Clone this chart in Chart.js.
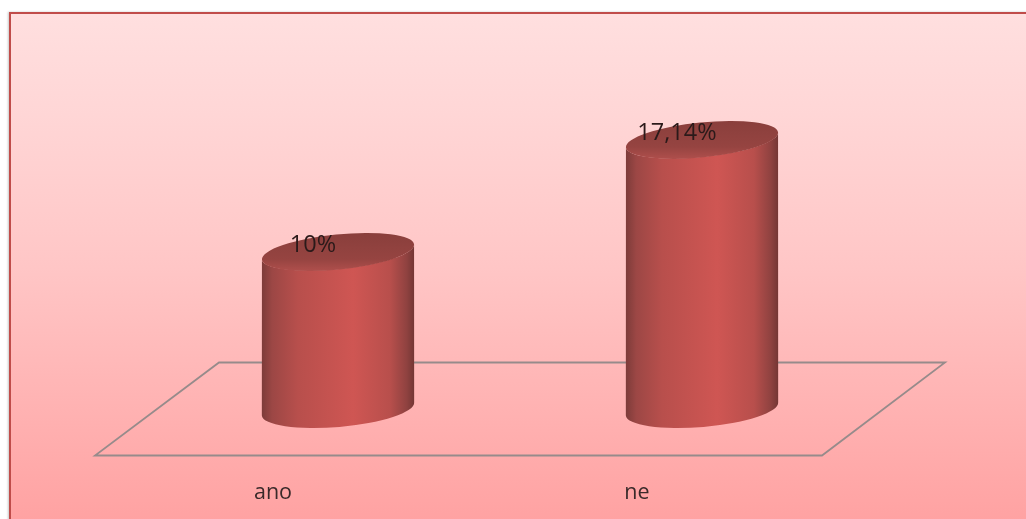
<!DOCTYPE html>
<html>
<head>
<meta charset="utf-8">
<title>ano ne</title>
<script src="https://cdn.jsdelivr.net/npm/chart.js@4"></script>
<style>
html,body{margin:0;padding:0;background:#fff;overflow:hidden;}
#wrap{position:relative;width:1026px;height:519px;}
#frame{
    position:absolute;left:9px;top:12px;right:-4px;bottom:-4px;
    border:2px solid #c04c4a;
    box-shadow:-1px 0 2px rgba(90,90,90,.35);
    background:linear-gradient(to bottom,#ffdfdf 0%,#ffd6d6 20%,#ffc6c6 50%,#ffb2b2 78%,#ffa2a2 100%);
}
canvas{position:absolute;left:0;top:0;}
</style>
</head>
<body>
<div id="wrap">
<div id="frame"></div>
<canvas id="myChart" width="1026" height="519"></canvas>
</div>
<script>
// =========================
// Data
// =========================

const categories = ["ano","ne"];
const seriesValues = [10,17.14];
const valueLabels = ["10%","17,14%"];


// =========================
// Cylinder helpers
// =========================

function bodyGradient(ctx,left,right){

    const g = ctx.createLinearGradient(left,0,right,0);

    g.addColorStop(0,"#7c3b39");
    g.addColorStop(.07,"#9c4745");
    g.addColorStop(.24,"#b84f4c");
    g.addColorStop(.6,"#cf5653");
    g.addColorStop(.84,"#b84f4c");
    g.addColorStop(.95,"#8f4240");
    g.addColorStop(1,"#733634");

    return g;

}

const cylinderPlugin = {

    id:"cylinder",

    // floor of the 3D plot, sits behind the bars
    beforeDatasetsDraw(chart){

        const ctx = chart.ctx;
        const area = chart.chartArea;
        const zero = chart.scales.y.getPixelForValue(0);

        ctx.save();
        ctx.strokeStyle = "#978b8b";
        ctx.lineWidth = 1.8;
        ctx.beginPath();
        ctx.moveTo(area.left-61,zero+46.5);
        ctx.lineTo(area.right-62,zero+46.5);
        ctx.lineTo(area.right+61,zero-46.5);
        ctx.lineTo(area.left+63,zero-46.5);
        ctx.closePath();
        ctx.stroke();
        ctx.restore();

    },

    afterDatasetsDraw(chart){

        const ctx = chart.ctx;

        chart.getDatasetMeta(0).data.forEach((bar,i)=>{

            const a = bar.width/2;
            const left = bar.x-a;
            const right = bar.x+a;
            const topTilt = -0.1;
            const baseTilt = -0.085;

            ctx.save();

            // body
            ctx.fillStyle = bodyGradient(ctx,left,right);
            ctx.beginPath();
            ctx.ellipse(bar.x,bar.y,a,17,topTilt,Math.PI,0,true);
            ctx.ellipse(bar.x,bar.base,a,18,baseTilt,0,Math.PI,false);
            ctx.closePath();
            ctx.fill();

            // top face
            const g = ctx.createLinearGradient(0,bar.y-18,0,bar.y+18);
            g.addColorStop(0,"#8a3f3c");
            g.addColorStop(.7,"#964441");
            g.addColorStop(1,"#ad4e4b");

            ctx.fillStyle = g;
            ctx.beginPath();
            ctx.ellipse(bar.x,bar.y,a,17.5,topTilt,0,Math.PI*2);
            ctx.fill();

            // value label
            ctx.fillStyle = "#2b1a1a";
            ctx.font = "23.5px 'Open Sans'";
            ctx.textAlign = "center";
            ctx.textBaseline = "middle";
            ctx.fillText(valueLabels[i],bar.x-25,bar.y-7);

            ctx.restore();

        });

    }

};


// =========================
// Create Chart
// =========================

const ctx = document.getElementById("myChart").getContext("2d");

new Chart(ctx,{

    type:"bar",

    data:{
        labels:categories,
        datasets:[
            {
                data:seriesValues,
                backgroundColor:"rgba(0,0,0,0)",
                borderWidth:0,
                barPercentage:.42,
                categoryPercentage:1
            }
        ]
    },

    plugins:[cylinderPlugin],

    options:{

        responsive:false,
        animation:false,

        layout:{
            padding:{left:156,right:142,top:16.5,bottom:12}
        },

        plugins:{
            legend:{display:false},
            tooltip:{enabled:false}
        },

        scales:{

            x:{
                grid:{display:false},
                border:{display:false},
                // labels hang far below the bars, keep that out of the plot height
                afterFit(scale){
                    scale.height = 98;
                },
                ticks:{
                    color:"#3a2a2a",
                    font:{family:"'Open Sans'",size:21.5},
                    padding:63,
                    labelOffset:-65,
                    maxRotation:0
                }
            },

            y:{
                display:false,
                min:0,
                max:25
            }

        }

    }

});
</script>
</body>
</html>
